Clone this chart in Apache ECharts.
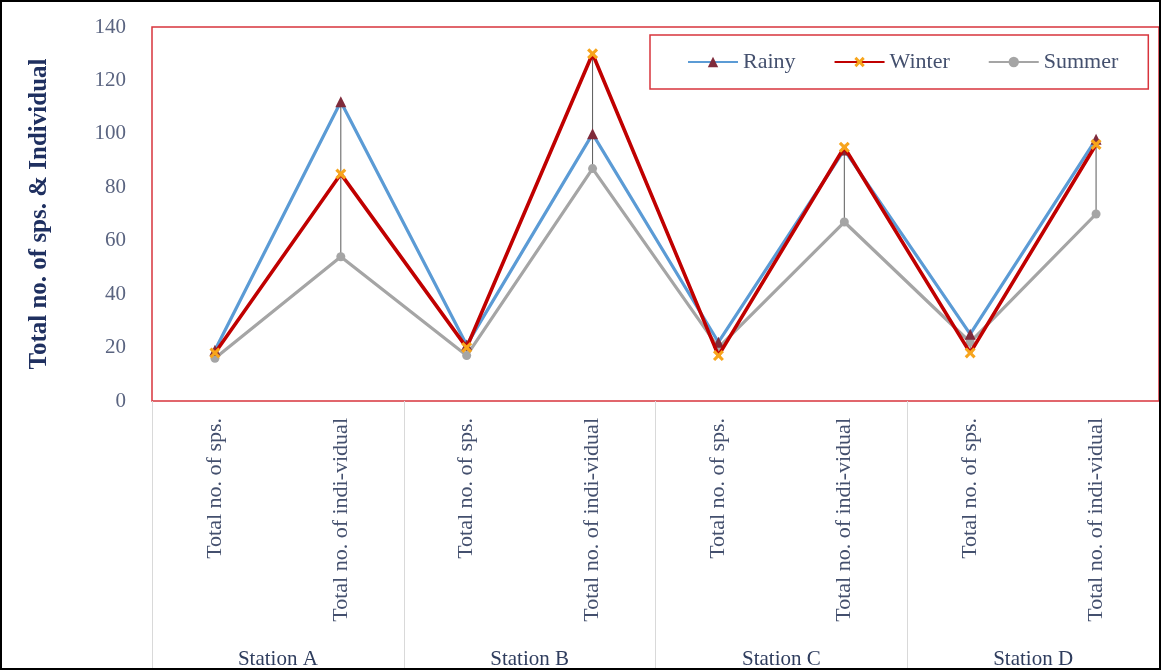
<!DOCTYPE html>
<html>
<head>
<meta charset="utf-8">
<script src="https://cdn.jsdelivr.net/npm/echarts@6/dist/echarts.min.js"></script>
<style>
  html, body { margin: 0; padding: 0; background: #ffffff; }
  #chart { width: 1161px; height: 670px; }
</style>
</head>
<body>
<div id="chart"></div>
<script>
// Per-station measures (inner category level)
const measures = ['Total no. of sps.', 'Total no. of indi-vidual',
                  'Total no. of sps.', 'Total no. of indi-vidual',
                  'Total no. of sps.', 'Total no. of indi-vidual',
                  'Total no. of sps.', 'Total no. of indi-vidual'];
// Station groups (outer category level)
const stations = ['Station A', 'Station B', 'Station C', 'Station D'];

// Seasonal values, one per measure
const rainy  = [19, 112, 21, 100, 22, 94, 25, 98];
const winter = [18, 85, 20, 130, 17, 95, 18, 96];
const summer = [16, 54, 17, 87, 20, 67, 22, 70];

// Y axis ticks
const yMin = 0, yMax = 140, yStep = 20;

const FONT = "'Liberation Serif', 'DejaVu Serif', serif";
const TEXT_COLOR = '#44506e';

// High-low span for each category across the three seasons
const hiLo = measures.map((_, i) => {
  const vals = [rainy[i], winter[i], summer[i]];
  return [i, Math.min.apply(null, vals), Math.max.apply(null, vals)];
});

const xMarkerPath = 'path://M2,0 L5,3 L8,0 L10,2 L7,5 L10,8 L8,10 L5,7 L2,10 L0,8 L3,5 L0,2 Z';

const chart = echarts.init(document.getElementById('chart'), null, { renderer: 'canvas' });

chart.setOption({
  backgroundColor: '#ffffff',
  animation: false,
  grid: {
    left: 152, right: 2, top: 27, bottom: 267,
    show: true,
    borderColor: '#d8343c',
    borderWidth: 1.5,
    backgroundColor: '#ffffff'
  },
  legend: {
    data: ['Rainy', 'Winter', 'Summer'],
    left: 650, top: 35,
    width: 500,
    padding: [16, 30, 16, 37],
    itemGap: 38,
    itemWidth: 50,
    itemHeight: 13,
    borderColor: '#d8343c',
    borderWidth: 1.5,
    textStyle: { fontFamily: FONT, fontSize: 22, color: TEXT_COLOR }
  },
  xAxis: [
    {
      type: 'category',
      data: measures,
      boundaryGap: true,
      position: 'bottom',
      axisLine: { show: false },
      axisTick: { show: false },
      splitLine: { show: false },
      axisLabel: {
        rotate: 90,
        margin: 17,
        interval: 0,
        fontFamily: FONT,
        fontSize: 22,
        color: TEXT_COLOR
      }
    },
    {
      type: 'category',
      data: stations,
      boundaryGap: true,
      position: 'bottom',
      offset: 0,
      axisLine: { show: false },
      axisTick: {
        show: true,
        length: 267,
        alignWithLabel: false,
        lineStyle: { color: '#d9d9d9', width: 1 }
      },
      splitLine: { show: false },
      axisLabel: {
        margin: 248,
        interval: 0,
        fontFamily: FONT,
        fontSize: 21,
        color: '#2f3d5e'
      }
    }
  ],
  yAxis: {
    type: 'value',
    min: yMin, max: yMax, interval: yStep,
    axisLine: { show: false },
    axisTick: { show: false },
    splitLine: { show: false },
    axisLabel: {
      margin: 26,
      fontFamily: FONT,
      fontSize: 21,
      color: '#5a6480'
    },
    name: 'Total no. of sps. & Individual',
    nameLocation: 'middle',
    nameGap: 100,
    nameTextStyle: {
      fontFamily: FONT,
      fontSize: 25,
      fontWeight: 'bold',
      color: '#1f3060'
    }
  },
  series: [
    {
      name: 'hi-lo',
      type: 'custom',
      xAxisIndex: 0,
      z: 1,
      silent: true,
      data: hiLo,
      renderItem: function (params, api) {
        const top = api.coord([api.value(0), api.value(2)]);
        const bot = api.coord([api.value(0), api.value(1)]);
        return {
          type: 'line',
          shape: { x1: top[0], y1: top[1], x2: bot[0], y2: bot[1] },
          style: { stroke: '#5a5a5a', lineWidth: 1 }
        };
      }
    },
    {
      name: 'Summer',
      type: 'line',
      xAxisIndex: 0,
      z: 2,
      data: summer,
      symbol: 'circle',
      symbolSize: 9,
      lineStyle: { color: '#a5a5a5', width: 3.2 },
      itemStyle: { color: '#a5a5a5' }
    },
    {
      name: 'Rainy',
      type: 'line',
      xAxisIndex: 0,
      z: 3,
      data: rainy,
      symbol: 'triangle',
      symbolSize: 11,
      lineStyle: { color: '#5b9bd5', width: 3.2 },
      itemStyle: { color: '#7f2b3b' }
    },
    {
      name: 'Winter',
      type: 'line',
      xAxisIndex: 0,
      z: 4,
      data: winter,
      symbol: xMarkerPath,
      symbolSize: 11,
      lineStyle: { color: '#c00000', width: 3.6 },
      itemStyle: { color: '#f7a51c' }
    }
  ],
  graphic: [
    {
      type: 'rect',
      shape: { x: 1, y: 1, width: 1159, height: 668 },
      style: { fill: 'none', stroke: '#000000', lineWidth: 2 },
      silent: true,
      z: 100
    }
  ]
});
</script>
</body>
</html>
